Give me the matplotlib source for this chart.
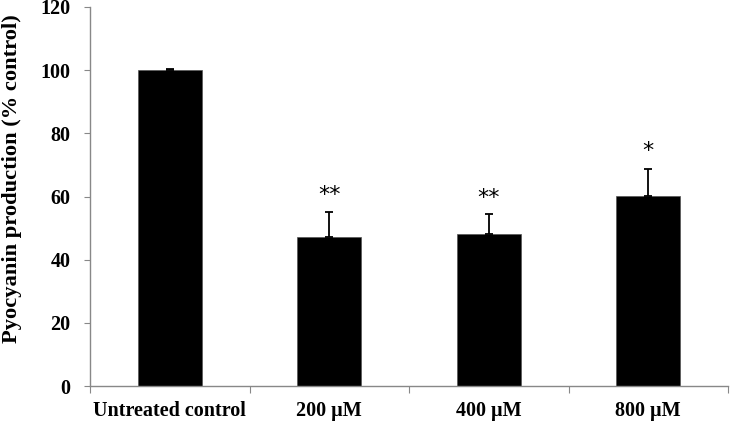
import matplotlib
matplotlib.use("Agg")
import matplotlib.pyplot as plt
import numpy as np

categories = ["Untreated control", "200 µM", "400 µM", "800 µM"]
values = [100.0, 47.3, 48.0, 60.2]
errors = [0.4, 7.8, 6.6, 8.6]
stars = ["", "**", "**", "*"]
star_y = [None, 60.5, 59.6, 74.5]

plt.rcParams['font.family'] = ['Liberation Serif', 'DejaVu Serif']
plt.rcParams['font.weight'] = 'bold'

fig = plt.figure(figsize=(7.30, 4.21), dpi=100)
ax = fig.add_axes([90/730, 1-386/421, (728-90)/730, (386-7)/421])

x = np.arange(len(categories))
ax.bar(x, values, width=0.4, color='black', edgecolor='#555555', linewidth=0.5, zorder=2)
ax.errorbar(x, values, yerr=[np.zeros(len(errors)), errors], fmt='none',
            ecolor='black', elinewidth=1.3, capsize=2.6, capthick=1.3, zorder=3)
for xi, s, sy in zip(x, stars, star_y):
    if s:
        ax.text(xi, sy, s, ha='center', va='center', fontsize=16,
                fontweight='normal', family=['DejaVu Sans'])

ax.set_xlim(-0.5, len(categories) - 0.5)
ax.set_ylim(0, 120)
ax.set_yticks(np.arange(0, 121, 20))
ax.set_xticks(np.arange(-0.5, len(categories), 1.0))
ax.set_xticklabels([])
ax.set_xticks(x, minor=True)
ax.set_xticklabels(categories, minor=True)
ax.tick_params(axis='x', which='minor', length=0, pad=11, labelsize=14.5)
ax.tick_params(axis='x', which='major', length=5, color='#888888', direction='out')
ax.tick_params(axis='y', length=4, color='#888888', pad=10, labelsize=14.5)
for lab in ax.get_xticklabels(minor=True) + ax.get_yticklabels():
    lab.set_fontweight('bold')

for side in ['top', 'right']:
    ax.spines[side].set_visible(False)
for side in ['left', 'bottom']:
    ax.spines[side].set_color('#888888')
    ax.spines[side].set_linewidth(1.0)

ax.set_ylabel("Pyocyanin production (% control)", fontsize=16.2, fontweight='bold')
ax.yaxis.set_label_coords(-0.107, 0.548)

fig.savefig("out.png", dpi=100)
